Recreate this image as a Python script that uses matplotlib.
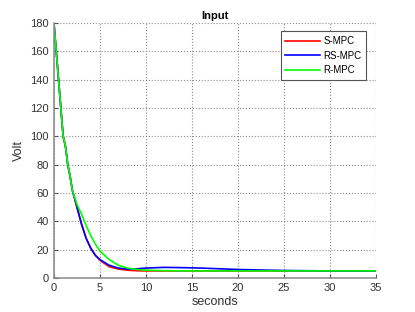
import matplotlib.pyplot as plt

# control input of three MPC variants
t = [0, 0.25, 0.5, 0.75, 1, 1.25, 1.5, 1.75, 2, 2.5, 3, 3.5, 4, 4.5, 5,
     6, 7, 8, 9, 10, 12, 14, 16, 18, 20, 25, 30, 35]
s_mpc = [180, 160, 140, 120, 100, 93, 80, 72, 62, 50, 38, 28, 21, 16, 12.5,
         8, 6.3, 5.5, 5.1, 5, 5, 5, 5, 5, 5, 5, 5, 5]
rs_mpc = [180, 160, 140, 120, 100, 93, 80, 72, 62, 50, 38, 28, 21, 16, 13,
          9, 7, 6.3, 6.5, 7, 7.5, 7.3, 7, 6.5, 6, 5.3, 5, 5]
r_mpc = [180, 160, 140, 120, 100, 93, 80, 72, 62, 52, 45, 37, 30, 24, 19,
         13, 9, 7, 6, 5.5, 5.2, 5, 5, 5, 5, 5, 5, 5]

plt.rcParams['font.family'] = ['Liberation Sans', 'DejaVu Sans']

fig, ax = plt.subplots(figsize=(4.15, 3.12), dpi=100)
fig.subplots_adjust(left=0.130, right=0.906, top=0.926, bottom=0.109)

ax.plot(t, s_mpc, color='#ff0000', lw=1.2, label='S-MPC')
ax.plot(t, rs_mpc, color='#0000ff', lw=1.2, label='RS-MPC')
ax.plot(t, r_mpc, color='#00ff00', lw=1.2, label='R-MPC')

ax.set_xlim(0, 35)
ax.set_ylim(0, 180)
ax.set_xticks(range(0, 36, 5))
ax.set_yticks(range(0, 181, 20))
ax.grid(True, linestyle=':', color='#8c8c8c', lw=0.8)

for side in ['top', 'right']:
    ax.spines[side].set_visible(False)
for side in ['left', 'bottom']:
    ax.spines[side].set_color('#888888')
    ax.spines[side].set_linewidth(1.1)
ax.tick_params(direction='in', labelsize=8, labelcolor='#333333',
               color='#555555', length=3)

ax.set_title('Input', fontsize=8, fontweight='bold', pad=3)
ax.set_xlabel('seconds', fontsize=9, color='#333333', labelpad=2)
ax.set_ylabel('Volt', fontsize=9, color='#333333', labelpad=4)

leg = ax.legend(loc='upper right', bbox_to_anchor=(0.97, 0.967), fontsize=7,
                fancybox=False, edgecolor='#555555', framealpha=1,
                handlelength=3.6, handletextpad=0.3, borderpad=0.5,
                labelspacing=0.45, borderaxespad=0)
leg.get_frame().set_linewidth(0.8)

plt.savefig('out.png', dpi=100)
